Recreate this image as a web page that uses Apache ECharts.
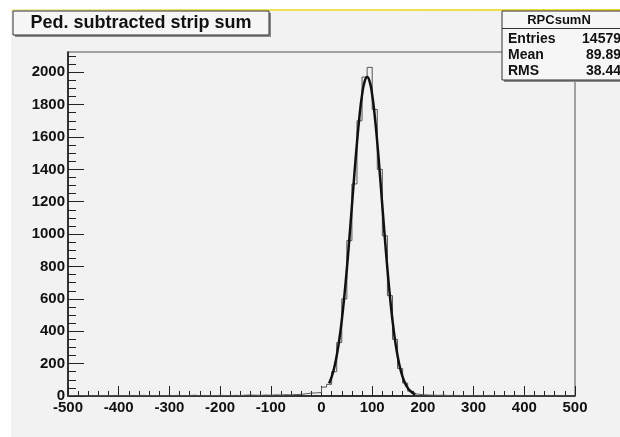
<!DOCTYPE html>
<html>
<head>
<meta charset="utf-8">
<script src="https://cdn.jsdelivr.net/npm/echarts@6/dist/echarts.min.js"></script>
<style>
  html, body { margin: 0; padding: 0; background: #f2f2f2; }
  #chart { width: 620px; height: 437px; }
</style>
</head>
<body>
<div id="chart"></div>
<script>
// ---------------- data ----------------
const titleText = 'Ped. subtracted strip sum';
const statsName = 'RPCsumN';
const statsLabels = ['Entries', 'Mean', 'RMS'];
const statsValues = ['14579', '89.89', '38.44'];

const binStart = -500;   // first bin low edge
const binWidth = 10;     // bin width
// histogram counts, 100 bins from -500 to 500
const counts = [
  2, 0, 3, 1, 0, 2, 1, 3, 0, 2,
  1, 2, 0, 3, 4, 2, 3, 1, 2, 0,
  3, 4, 2, 3, 5, 2, 1, 3, 2, 4,
  3, 2, 4, 3, 5, 6, 5, 4, 6, 5,
  7, 6, 8, 7, 9, 10, 14, 18, 19, 22,
  55, 72, 150, 330, 600, 960, 1310, 1700, 1970, 2030,
  1770, 1400, 990, 620, 350, 170, 80, 30, 12, 8,
  6, 5, 4, 5, 3, 4, 3, 2, 3, 2,
  3, 2, 1, 2, 1, 0, 1, 0, 0, 1,
  0, 0, 1, 0, 0, 0, 0, 1, 0, 0
];

// fitted curve
const fitX = [15, 20, 25, 30, 35, 40, 45, 50, 55, 60, 65, 70, 75, 80, 85, 90,
              95, 100, 105, 110, 115, 120, 125, 130, 135, 140, 145, 150, 155, 160, 165, 170, 175, 180, 185];
const fitY = [78, 118, 173, 249, 346, 468, 615, 785, 974, 1175, 1376, 1566, 1731, 1860, 1942, 1970,
              1942, 1860, 1731, 1566, 1376, 1175, 974, 785, 615, 468, 346, 249, 173, 118, 78, 50, 31, 19, 11];

const xMin = -500, xMax = 500, xMajor = 100, xMinor = 20;
const yMin = 0, yMax = 2125, yMajorTop = 2000, yMajor = 200, yMinorTop = 2100, yMinor = 50;

// ---------------- build ----------------
const histData = counts.map((c, i) => [binStart + i * binWidth, c]);
histData.push([binStart + counts.length * binWidth, counts[counts.length - 1]]);
const fitData = fitX.map((x, i) => [x, fitY[i]]);

function range(a, b, s) { const r = []; for (let v = a; v <= b + 1e-9; v += s) r.push(v); return r; }
const yMajorVals = range(yMin, yMajorTop, yMajor);
const yMinorVals = range(yMin, yMinorTop, yMinor);

const FONT = "'Liberation Sans', Arial, sans-serif";
const plain = v => String(v);
const chart = echarts.init(document.getElementById('chart'), null, { renderer: 'canvas' });

const option = {
  backgroundColor: '#f2f2f2',
  animation: false,
  grid: {
    left: 68, top: 52, width: 507, height: 344,
    show: true, borderColor: '#505050', borderWidth: 1, backgroundColor: 'transparent'
  },
  xAxis: [
    {
      type: 'value', min: xMin, max: xMax, interval: xMajor,
      axisLine: { show: true, onZero: false, lineStyle: { color: '#111', width: 1.5 } },
      axisTick: { show: true, inside: true, length: 10, lineStyle: { color: '#222', width: 1 } },
      axisLabel: { margin: 4, color: '#111', fontFamily: FONT, fontWeight: 'bold', fontSize: 15, formatter: plain },
      splitLine: { show: false }
    },
    {
      type: 'value', min: xMin, max: xMax, interval: xMinor, position: 'bottom',
      axisLine: { show: false, onZero: false },
      axisTick: { show: true, inside: true, length: 5, lineStyle: { color: '#222', width: 1 } },
      axisLabel: { show: false },
      splitLine: { show: false }
    }
  ],
  yAxis: [
    {
      type: 'value', min: yMin, max: yMax, interval: yMajor,
      axisLine: { show: true, onZero: false, lineStyle: { color: '#111', width: 1.5 } },
      axisTick: { show: true, inside: true, length: 16, customValues: yMajorVals, lineStyle: { color: '#222', width: 1 } },
      axisLabel: { margin: 3, customValues: yMajorVals, color: '#111', fontFamily: FONT, fontWeight: 'bold', fontSize: 15, formatter: plain },
      splitLine: { show: false }
    },
    {
      type: 'value', min: yMin, max: yMax, interval: yMinor, position: 'left',
      axisLine: { show: false, onZero: false },
      axisTick: { show: true, inside: true, length: 8, customValues: yMinorVals, lineStyle: { color: '#222', width: 1 } },
      axisLabel: { show: false },
      splitLine: { show: false }
    }
  ],
  series: [
    {
      type: 'line', name: 'hist', data: histData, step: 'end',
      xAxisIndex: 0, yAxisIndex: 0,
      showSymbol: false, symbol: 'none',
      lineStyle: { color: '#555', width: 1 },
      z: 2
    },
    {
      type: 'line', name: 'fit', data: fitData, smooth: true,
      xAxisIndex: 0, yAxisIndex: 0,
      showSymbol: false, symbol: 'none',
      lineStyle: { color: '#111', width: 2.5 },
      z: 3
    }
  ],
  graphic: [
    // page border strips
    { type: 'rect', left: 0, top: 0, shape: { width: 11, height: 437 }, style: { fill: '#ffffff' }, silent: true },
    { type: 'rect', left: 0, top: 0, shape: { width: 620, height: 10 }, style: { fill: '#ffffff' }, silent: true },
    { type: 'rect', left: 11, top: 9, shape: { width: 609, height: 2 },
      style: { fill: new echarts.graphic.LinearGradient(0, 0, 1, 0, [
        { offset: 0, color: '#f4f0b0' }, { offset: 0.3, color: '#efe460' }, { offset: 1, color: '#ecde3a' }]) }, silent: true },
    // title box
    { type: 'rect', shape: { x: 15, y: 13, width: 256, height: 24 }, style: { fill: '#8a8a8a' }, z: 10 },
    { type: 'rect', shape: { x: 13, y: 11, width: 256, height: 24 }, style: { fill: '#f6f6f6', stroke: '#333', lineWidth: 1 }, z: 11 },
    { type: 'text', x: 141, y: 23.5, z: 12,
      style: { text: titleText, fill: '#111', font: "bold 18px 'Liberation Sans', Arial, sans-serif", align: 'center', verticalAlign: 'middle' } },
    // stats box
    { type: 'rect', shape: { x: 504, y: 13, width: 120, height: 69 }, style: { fill: '#8a8a8a' }, z: 10 },
    { type: 'rect', shape: { x: 502, y: 11, width: 120, height: 69 }, style: { fill: '#f6f6f6', stroke: '#333', lineWidth: 1 }, z: 11 },
    { type: 'line', shape: { x1: 502, y1: 28.5, x2: 622, y2: 28.5 }, style: { stroke: '#333', lineWidth: 1 }, z: 12 },
    { type: 'text', x: 559, y: 20, z: 12,
      style: { text: statsName, fill: '#111', font: "bold 13px 'Liberation Sans', Arial, sans-serif", align: 'center', verticalAlign: 'middle' } }
  ].concat(statsLabels.map((lab, i) => ({
    type: 'text', x: 508, y: 39 + i * 16.3, z: 12,
    style: { text: lab, fill: '#111', font: "bold 14px 'Liberation Sans', Arial, sans-serif", align: 'left', verticalAlign: 'middle' }
  }))).concat(statsValues.map((v, i) => ({
    type: 'text', x: 621, y: 39 + i * 16.3, z: 12,
    style: { text: v, fill: '#111', font: "bold 14px 'Liberation Sans', Arial, sans-serif", align: 'right', verticalAlign: 'middle' }
  })))
};
chart.setOption(option);
</script>
</body>
</html>
